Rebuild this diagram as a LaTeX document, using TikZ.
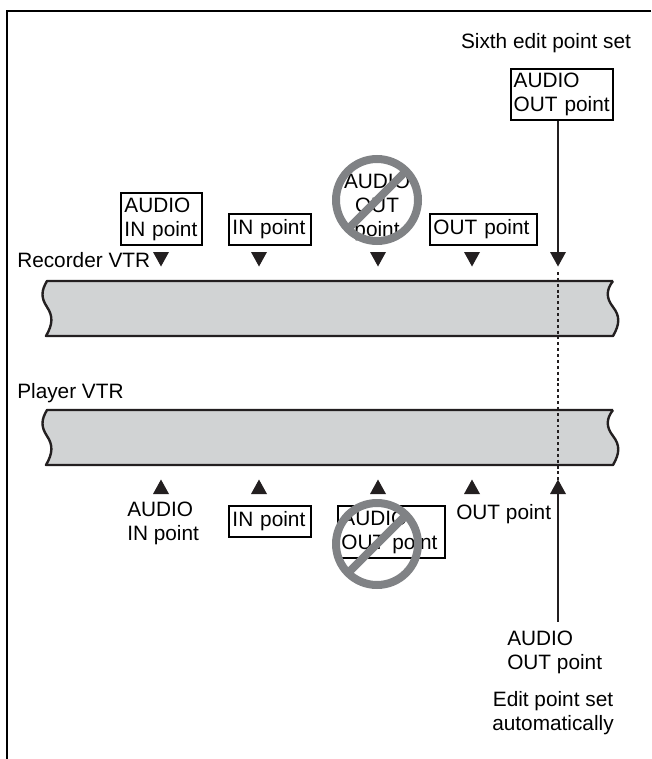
\documentclass[tikz,border=0pt]{standalone}
\usepackage{fontspec}
\setmainfont{Liberation Sans}
\definecolor{tapegray}{RGB}{209,211,212}
\definecolor{nogray}{RGB}{128,130,133}
\definecolor{inkk}{RGB}{35,31,32}
\newcommand{\tapeshape}[2]{%
  \fill[tapegray] (47,#1) .. controls (41,#1+10) and (41,#1+17) .. (47,#1+26) .. controls (53,#1+35) and (53,#1+43) .. (46,#2)
     -- (613,#2) .. controls (620,#1+43) and (620,#1+35) .. (613,#1+26) .. controls (606,#1+17) and (606,#1+9) .. (613,#1) -- cycle;
  \draw[inkk,line width=1.8pt,line join=round] (613,#1) -- (47,#1) .. controls (41,#1+10) and (41,#1+17) .. (47,#1+26) .. controls (53,#1+35) and (53,#1+43) .. (46,#2) -- (613,#2) .. controls (620,#1+43) and (620,#1+35) .. (613,#1+26) .. controls (606,#1+17) and (606,#1+9) .. (613,#1);
}
\tikzset{
  x=0.75pt,y=-0.75pt,
  lbl/.style={font=\fontsize{15.6pt}{18pt}\selectfont,inner sep=0pt,align=left,text=black},
  lblc/.style={lbl,align=center},
  boxed/.style={lbl,draw=black,line width=1.5pt,text width=#1,inner xsep=2.6pt,inner ysep=0pt,anchor=north west},
  tridown/.style={fill=inkk,draw=none},
  noring/.style={draw=nogray,line width=6pt},
  noslash/.style={draw=nogray,line width=6pt},
  leader/.style={draw=inkk,line width=2pt},
  dotline/.style={draw=inkk,line width=0.8pt,dash pattern=on 2.2pt off 2.2pt}
}
\newcommand{\tridn}[2]{\fill[tridown] (#1-8,#2) -- (#1+8,#2) -- (#1,#2+14.5) -- cycle;}
\newcommand{\triup}[2]{\fill[tridown] (#1-8,#2) -- (#1+8,#2) -- (#1,#2-14.5) -- cycle;}
\begin{document}
\begin{tikzpicture}
\useasboundingbox (0,0) rectangle (651,759);
\draw[black,line width=1.5pt] (651,11) -- (6.5,11) -- (6.5,759);
\tapeshape{281}{336}
\tapeshape{410}{465}
% text
\node[lbl,anchor=base west] (rec) at (17,267) {Recorder VTR};
\node[lbl,anchor=base west] (pla) at (17,398) {Player VTR};
\node[lbl,anchor=base] (sixth) at (546,49) {Sixth edit point set};
% recorder boxes
\node[boxed=55.55pt,minimum height=39pt] (b1) at (120,192) {AUDIO\\IN point};
\node[boxed=56.3pt,minimum height=23pt] (b2) at (228,213) {IN point};
\node[boxed=74.8pt,minimum height=23pt] (b4) at (429,213) {OUT point};
\node[boxed=72.5pt,minimum height=38pt,inner xsep=2pt] (b5) at (510,68) {AUDIO\\OUT point};
\node[lblc] (b3) at (377,207) {AUDIO\\OUT\\point};
% player labels
\node[lbl,anchor=west] (p1t) at (127,523) {AUDIO\\IN point};
\node[boxed=56.3pt,minimum height=23pt] (p2) at (228,505) {IN point};
\node[boxed=74.8pt,minimum height=39pt] (p3) at (337,505) {AUDIO\\OUT point};
\node[lbl,anchor=base west] (p4) at (456,519) {OUT point};
\node[lbl,anchor=north west] (p5) at (507,631) {AUDIO\\OUT point};
\node[lblc] (p6) at (553,713) {Edit point set\\automatically};
% triangles
\tridn{161}{252}\tridn{259}{252}\tridn{378}{252}\tridn{472}{252}\tridn{558}{252}
\triup{161}{494}\triup{259}{494}\triup{378}{494}\triup{472}{494}\triup{558}{494}
% connectors
\coordinate (topend) at (558,254);
\coordinate (dots1) at (558,272);
\coordinate (dots2) at (558,480);
\coordinate (botstart) at (558,492);
\coordinate (botend) at (558,622);
\draw[leader] (b5.south -| topend) -- (topend);
\draw[dotline] (dots1) -- (dots2);
\draw[leader] (botstart) -- (botend);
% no-signs
\draw[noring] (377,200) circle (41);
\draw[noslash] (377-29,200+29) -- (377+29,200-29);
\draw[noring] (377,544) circle (41);
\draw[noslash] (377-29,544+29) -- (377+29,544-29);
\end{tikzpicture}
\end{document}
